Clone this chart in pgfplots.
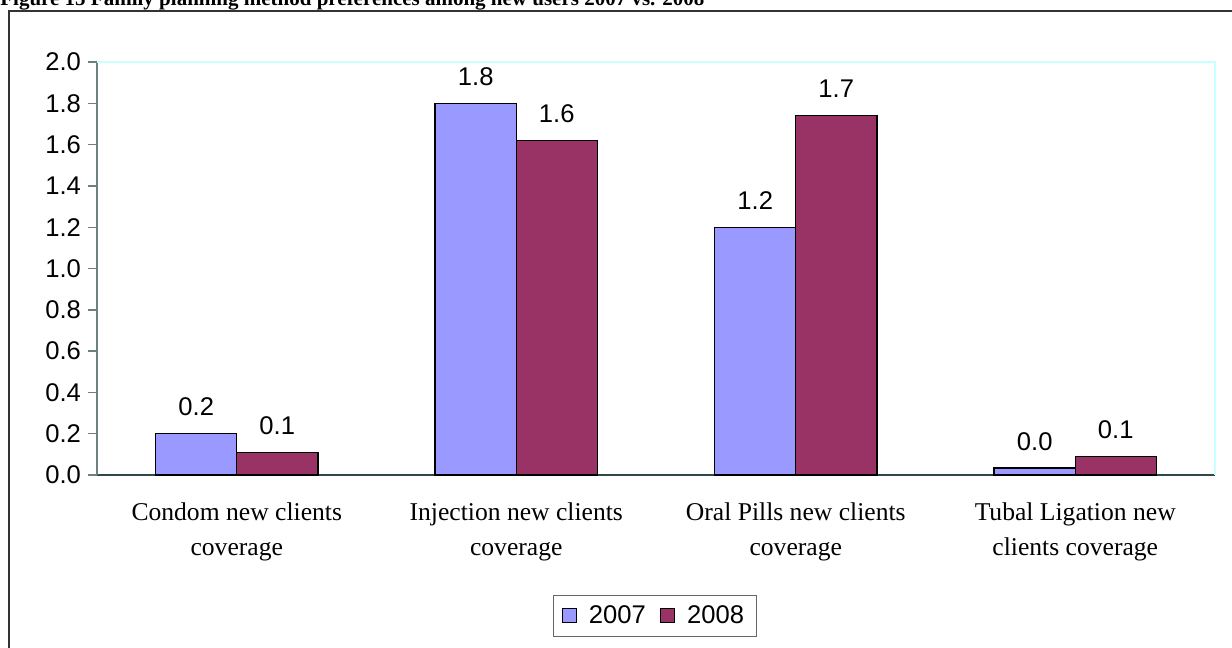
\documentclass[border=0pt]{standalone}
\usepackage{pgfplots}
\pgfplotsset{compat=1.18}
\usepackage{fontspec}
\setmainfont{Liberation Sans}
\newfontfamily\serifcat{Liberation Serif}
\definecolor{c2007}{HTML}{9999FF}
\definecolor{c2008}{HTML}{993366}
\definecolor{axisgray}{HTML}{6E8080}
\definecolor{axisdark}{HTML}{304848}
\definecolor{framecyan}{HTML}{C8FFFF}
\begin{document}
\begin{tikzpicture}
\useasboundingbox (0,0) rectangle (616pt,324pt);
% outer frame (extends beyond page on right and bottom)
\draw[line width=0.8pt, black!80] (4.5pt,-10pt) -- (4.5pt,318.5pt) -- (630pt,318.5pt);
% title (partially cut at top, as in the reference)
\node[anchor=base west, inner sep=0pt, font=\serifcat\bfseries\fontsize{10.5}{12}\selectfont] at (0pt,321.3pt)
  {Figure 15 Family planning method preferences among new users 2007 vs. 2008};
\begin{axis}[
  at={(48.5pt,86.5pt)}, anchor=south west,
  scale only axis, width=559pt, height=206.5pt,
  ybar=0pt, bar width=0.29,
  xmin=-0.5, xmax=3.5, ymin=0, ymax=2.0,
  axis lines*=left,
  x axis line style={axisdark, line width=0.7pt},
  y axis line style={axisgray, line width=0.7pt},
  xtick={0,1,2,3},
  xticklabels={Condom new clients\\coverage, Injection new clients\\coverage, Oral Pills new clients\\coverage, Tubal Ligation new\\clients coverage},
  major x tick style={draw=none},
  extra x ticks={-0.5,0.5,1.5,2.5,3.5},
  extra x tick labels={},
  extra x tick style={tick style={axisgray, line width=0.7pt}, major tick length=4.5pt, tick align=outside},
  xticklabel style={font=\serifcat\fontsize{12.8}{17.5}\selectfont, align=center, yshift=-6pt},
  ytick={0,0.2,...,2.0},
  yticklabel style={font=\fontsize{12.8}{15}\selectfont},
  y tick label style={/pgf/number format/fixed, /pgf/number format/fixed zerofill, /pgf/number format/precision=1},
  /pgf/number format/assume math mode=true,
  ytick style={axisgray, line width=0.7pt},
  tick align=outside, major tick length=4.5pt,
  nodes near coords,
  nodes near coords style={font=\fontsize{12.8}{15}\selectfont, inner sep=0pt, yshift=8.5pt, /pgf/number format/fixed, /pgf/number format/fixed zerofill, /pgf/number format/precision=1},
  legend style={at={(0.499,-0.341)}, anchor=center, legend columns=2, draw=black!60, font=\fontsize{12.8}{15}\selectfont, inner xsep=4pt, inner ysep=3pt,
    /tikz/every odd column/.append style={column sep=4pt},
    /tikz/every even column/.append style={column sep=5pt}},
  legend image code/.code={\draw[#1, draw=black, line width=0.6pt] (0pt,-3.5pt) rectangle (7pt,3.5pt);},
  clip=false,
]
\draw[framecyan, line width=1pt] (rel axis cs:0,1) -- (rel axis cs:1,1) -- (rel axis cs:1,0);
\addplot[fill=c2007, draw=black, line width=0.7pt] coordinates {(0,0.20) (1,1.80) (2,1.20) (3,0.034)};
\addplot[fill=c2008, draw=black, line width=0.7pt] coordinates {(0,0.11) (1,1.62) (2,1.74) (3,0.09)};
\legend{2007,2008}
\end{axis}
\end{tikzpicture}
\end{document}
